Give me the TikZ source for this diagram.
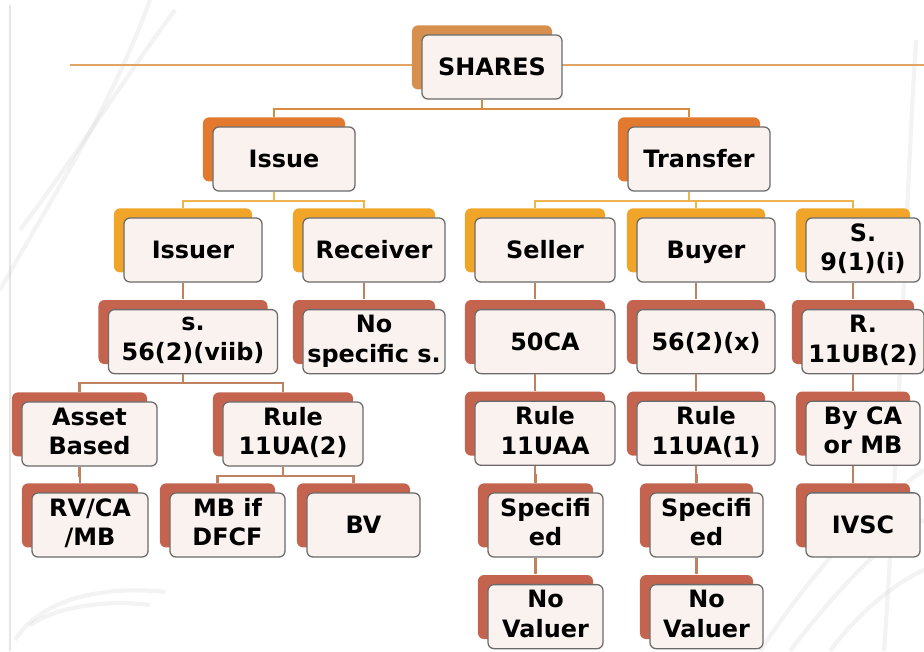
\documentclass[tikz,border=0pt]{standalone}
\usepackage{fontspec}
\newfontfamily\chartfont{DejaVu Sans}
\usetikzlibrary{shadows}

\definecolor{boxline}{HTML}{6B6B6B}
\definecolor{boxfill}{HTML}{FAF2EF}
\definecolor{topback}{HTML}{D68F4C}
\definecolor{midback}{HTML}{E3782F}
\definecolor{subback}{HTML}{F0A528}
\definecolor{lowback}{HTML}{C4644E}
\definecolor{toplink}{HTML}{D98B3F}
\definecolor{midlink}{HTML}{F0B44E}
\definecolor{lowlink}{HTML}{BE8260}
\definecolor{bandline}{HTML}{E2A466}

\begin{document}
\begin{tikzpicture}[x=0.025cm, y=-0.025cm, node distance=2.29cm,
    box/.style={rectangle, draw=boxline, fill=boxfill, line width=0.9pt, rounded corners=0.15cm,
        minimum height=1.6cm, inner sep=1pt, align=center,
        font={\chartfont\bfseries\fontsize{17pt}{21pt}\selectfont},
        execute at begin node={\rule{0pt}{16.6pt}}, execute at end node={\rule[-4.2pt]{0pt}{4.2pt}},
        general shadow={fill=#1, shadow xshift=-0.25cm, shadow yshift=0.24cm}},
    box/.default=lowback,
    link/.style={draw=#1, line width=1.5pt},
    swirl/.style={draw=gray!40, line width=3pt, opacity=0.22}]

    \fill[white] (0,0) rectangle (924,651);
    \useasboundingbox (0,0) rectangle (924,651);

    % background strokes
    \draw[gray!20, line width=1pt] (10,5) -- (10,651);
    \draw[swirl] (20,230) .. controls (80,150) and (130,70) .. (175,10);
    \draw[swirl] (0,290) .. controls (50,200) and (110,110) .. (150,0);
    \draw[swirl] (15,640) .. controls (40,600) and (100,585) .. (165,592);
    \draw[swirl] (30,625) .. controls (60,605) and (110,600) .. (150,605);
    \draw[swirl] (916,40) .. controls (906,200) and (900,420) .. (884,651);
    \draw[swirl] (760,651) .. controls (820,560) and (880,500) .. (924,470);
    \draw[swirl] (790,651) .. controls (840,585) and (890,535) .. (924,520);
    \draw[swirl] (830,651) .. controls (860,610) and (900,580) .. (924,570);
    \draw[bandline, line width=1.5pt] (70,65) -- (924,65);

    % level 1 and 2
    \node[box=topback, minimum width=3.5cm] (shares) at (492,67) {SHARES};
    \node[box=midback, minimum width=3.55cm] (issue) at (284,159) {Issue};
    \node[box=midback, minimum width=3.55cm] (transfer) at (699,159) {Transfer};

    % level 3
    \node[box=subback, minimum width=3.45cm] (issuer) at (193,250) {Issuer};
    \node[box=subback, minimum width=3.55cm] (receiver) at (374,250) {Receiver};
    \node[box=subback, minimum width=3.5cm] (seller) at (545,250) {Seller};
    \node[box=subback, minimum width=3.45cm] (buyer) at (706,250) {Buyer};
    \node[box=subback, minimum width=2.85cm] (sec9) at (863,250) {S.\\9(1)(i)};

    % level 4
    \node[box, minimum width=4.225cm, below of=issuer] (s56) {s.\\56(2)(viib)};
    \node[box, minimum width=3.55cm, below of=receiver] (nospec) {No\\specific s.};
    \node[box, minimum width=3.5cm, below of=seller] (ca50) {50CA};
    \node[box, minimum width=3.45cm, below of=buyer] (s56x) {56(2)(x)};
    \node[box, minimum width=3.05cm, below of=sec9] (r11ub) {R.\\11UB(2)};

    % level 5
    \node[box, minimum width=3.375cm] (asset) at (89.5,434) {Asset\\Based};
    \node[box, minimum width=3.5cm] (rule2) at (293,434) {Rule\\11UA(2)};
    \node[box, minimum width=3.5cm, below of=ca50] (ruleaa) {Rule\\11UAA};
    \node[box, minimum width=3.45cm, below of=s56x] (rule1) {Rule\\11UA(1)};
    \node[box, minimum width=2.85cm, below of=r11ub] (byca) {By CA\\or MB};

    % level 6 and 7
    \node[box, minimum width=2.9cm] (rvca) at (90,525) {RV/CA\\/MB};
    \node[box, minimum width=2.875cm] (mbif) at (227.5,525) {MB if\\DFCF};
    \node[box, minimum width=2.825cm] (bv) at (363.5,525) {BV};
    \node[box, minimum width=2.875cm] (specone) at (545.5,525) {Specifi\\ed};
    \node[box, minimum width=2.825cm] (spectwo) at (706.5,525) {Specifi\\ed};
    \node[box, minimum width=2.85cm, below of=byca] (ivsc) {IVSC};
    \node[box, minimum width=2.875cm, below of=specone] (novalone) {No\\Valuer};
    \node[box, minimum width=2.825cm, below of=spectwo] (novaltwo) {No\\Valuer};

    % connectors
    \foreach \a/\b in {shares/issue, shares/transfer}
        \draw[link=toplink] ([xshift=-0.25cm]\a.south) -- ++(0,9) -| ([xshift=-0.25cm, yshift=0.24cm]\b.north);
    \foreach \a/\b in {issue/issuer, issue/receiver, transfer/seller, transfer/buyer, transfer/sec9}
        \draw[link=midlink] ([xshift=-0.25cm]\a.south) -- ++(0,9) -| ([xshift=-0.25cm, yshift=0.24cm]\b.north);
    \foreach \a/\b in {issuer/s56, receiver/nospec, seller/ca50, buyer/s56x, sec9/r11ub,
            s56/asset, s56/rule2, ca50/ruleaa, s56x/rule1, r11ub/byca,
            asset/rvca, rule2/mbif, rule2/bv, ruleaa/specone, rule1/spectwo, byca/ivsc,
            specone/novalone, spectwo/novaltwo}
        \draw[link=lowlink] ([xshift=-0.25cm]\a.south) -- ++(0,9) -| ([xshift=-0.25cm, yshift=0.24cm]\b.north);
\end{tikzpicture}
\end{document}
